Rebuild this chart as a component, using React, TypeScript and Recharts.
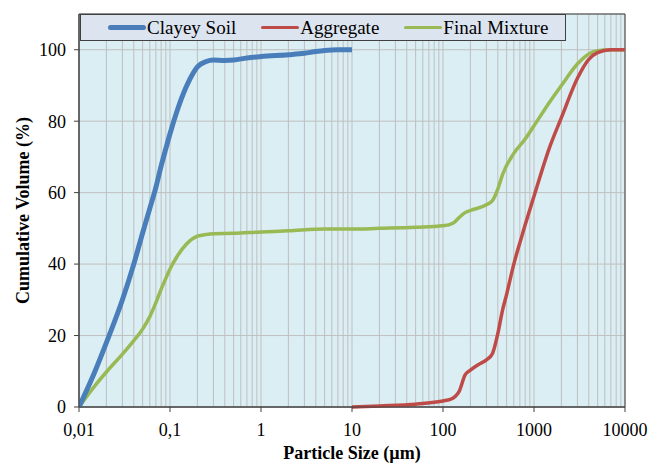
import { CartesianGrid, Label, Line, LineChart, ReferenceArea, XAxis, YAxis } from "recharts";

// particle size (µm) / cumulative volume (%)
const soilSize = [0.01, 0.015, 0.02, 0.03, 0.04, 0.05, 0.06, 0.07, 0.08, 0.09, 0.1, 0.12, 0.15, 0.18, 0.2, 0.25, 0.3, 0.4, 0.5, 0.7, 1, 2, 3, 4, 5, 7, 10];
const soilVol = [0, 10, 18, 30, 40, 48.7, 55.6, 61.5, 67.5, 72.3, 76.5, 83, 89.5, 93.5, 95.2, 96.7, 97.1, 97, 97.1, 97.7, 98.1, 98.6, 99, 99.5, 99.8, 100, 100];

const aggSize = [10, 20, 50, 100, 120, 150, 175, 200, 250, 300, 350, 400, 450, 500, 600, 700, 800, 1000, 1500, 2000, 3000, 4000, 5000, 7000, 10000];
const aggVol = [0, 0.3, 0.8, 1.7, 2.1, 4.3, 9, 10.3, 12, 13.2, 15, 20.5, 27, 31.5, 40, 46, 51, 59, 73, 81, 92, 97.3, 99.2, 100, 100];

const mixSize = [0.01, 0.015, 0.02, 0.03, 0.04, 0.05, 0.06, 0.07, 0.08, 0.09, 0.1, 0.12, 0.15, 0.2, 0.25, 0.3, 0.5, 1, 2, 5, 10, 20, 50, 100, 130, 150, 170, 200, 300, 350, 400, 450, 600, 800, 1000, 1500, 2000, 3000, 4000, 5000, 7000, 10000];
const mixVol = [0, 6, 9.8, 14.8, 18.6, 21.8, 25.3, 29.2, 33, 36, 38.6, 42.2, 45.5, 47.8, 48.3, 48.5, 48.6, 49, 49.3, 49.8, 49.8, 50, 50.3, 50.7, 51.5, 53, 54.2, 55, 56.6, 57.8, 61, 65, 71, 75, 78.7, 85.5, 90, 96, 98.8, 99.7, 100, 100];

const decades = [0.01, 0.1, 1, 10, 100, 1000];
const yTicks = [0, 20, 40, 60, 80, 100];

const xTicks: number[] = [];
for (const d of decades) {
  for (let k = 1; k <= 9; k++) xTicks.push(d * k);
}
xTicks.push(10000);

const toRows = (xs: number[], ys: number[]) => xs.map((x, i) => ({ x, y: ys[i] }));

const soilRows = toRows(soilSize, soilVol);
const aggRows = toRows(aggSize, aggVol);
const mixRows = toRows(mixSize, mixVol);

const BLUE = "#4A7EBB";
const RED = "#BE4B48";
const GREEN = "#98B954";
const AXIS = "#404040";
const FONT = "'Liberation Serif', 'Times New Roman', serif";

function isMajor(v: number) {
  const l = Math.log10(v);
  return Math.abs(l - Math.round(l)) < 1e-6;
}

function fmt(v: number) {
  return String(Number(v.toPrecision(6))).replace(".", ",");
}

function XTick(props: any) {
  const { x, y, payload } = props;
  if (!isMajor(payload.value)) return <g />;
  return (
    <g>
      <line x1={x} x2={x} y1={y} y2={y + 5} stroke={AXIS} />
      <text x={x} y={y + 29} textAnchor="middle" fontSize={18} fill="#000" fontFamily={FONT}>
        {fmt(payload.value)}
      </text>
    </g>
  );
}

function LegendBox() {
  const item = (color: string, w: number, text: string, gap: number) => (
    <span style={{ display: "flex", alignItems: "center", marginRight: gap }}>
      <span style={{ display: "inline-block", width: 38, height: w, background: color, borderRadius: w / 2 }} />
      <span style={{ marginLeft: 1 }}>{text}</span>
    </span>
  );
  return (
    <div
      style={{
        position: "absolute",
        left: 80,
        top: 14,
        width: 486,
        height: 27,
        boxSizing: "border-box",
        border: `1px solid ${AXIS}`,
        background: "#DCE4F0",
        display: "flex",
        alignItems: "center",
        paddingLeft: 27,
        fontFamily: FONT,
        fontSize: 19,
        lineHeight: "19px",
        color: "#000",
      }}
    >
      {item(BLUE, 5, "Clayey Soil", 25)}
      {item(RED, 3.5, "Aggregate", 25)}
      {item(GREEN, 3.5, "Final Mixture", 0)}
    </div>
  );
}

export default function App() {
  return (
    <div style={{ position: "absolute", left: 0, top: 0, width: 662, height: 464, background: "#fff" }}>
      <LineChart
        width={662}
        height={464}
        margin={{ top: 14, right: 37, left: 0, bottom: 0 }}
        style={{ fontFamily: FONT }}
      >
        <CartesianGrid stroke="#BFBFBF" fill="#DBEEF3" />
        <XAxis
          type="number"
          dataKey="x"
          scale="log"
          domain={[0.01, 10000]}
          allowDataOverflow
          ticks={xTicks}
          interval={0}
          tick={<XTick />}
          tickLine={false}
          tickSize={0}
          tickMargin={0}
          height={57}
          stroke={AXIS}
        >
          <Label
            content={(p: any) => {
              const vb = p.viewBox;
              return (
                <text
                  x={vb.x + vb.width / 2}
                  y={vb.y + 52}
                  textAnchor="middle"
                  fontSize={18}
                  fontWeight="bold"
                  fontFamily={FONT}
                  fill="#000"
                >
                  Particle Size (µm)
                </text>
              );
            }}
          />
        </XAxis>
        <YAxis
          type="number"
          domain={[0, 110]}
          ticks={yTicks}
          width={79}
          stroke={AXIS}
          tickSize={5}
          tickMargin={8}
          tick={{ fontSize: 18, fill: "#000", fontFamily: FONT }}
        >
          <Label
            content={(p: any) => {
              const vb = p.viewBox;
              const cx = vb.x + 23;
              const cy = vb.y + vb.height / 2;
              return (
                <text
                  x={cx}
                  y={cy}
                  transform={`rotate(-90 ${cx} ${cy})`}
                  textAnchor="middle"
                  dominantBaseline="central"
                  fontSize={18}
                  fontWeight="bold"
                  fontFamily={FONT}
                  fill="#000"
                >
                  Cumulative Volume (%)
                </text>
              );
            }}
          />
        </YAxis>
        <ReferenceArea x1={0.01} x2={10000} y1={0} y2={110} fill="none" stroke={AXIS} ifOverflow="visible" />
        <Line data={mixRows} dataKey="y" type="monotone" stroke={GREEN} strokeWidth={3.5} dot={false} isAnimationActive={false} name="Final Mixture" />
        <Line data={aggRows} dataKey="y" type="monotone" stroke={RED} strokeWidth={3.5} dot={false} isAnimationActive={false} name="Aggregate" />
        <Line data={soilRows} dataKey="y" type="monotone" stroke={BLUE} strokeWidth={5} dot={false} isAnimationActive={false} name="Clayey Soil" />
      </LineChart>
      <LegendBox />
    </div>
  );
}
